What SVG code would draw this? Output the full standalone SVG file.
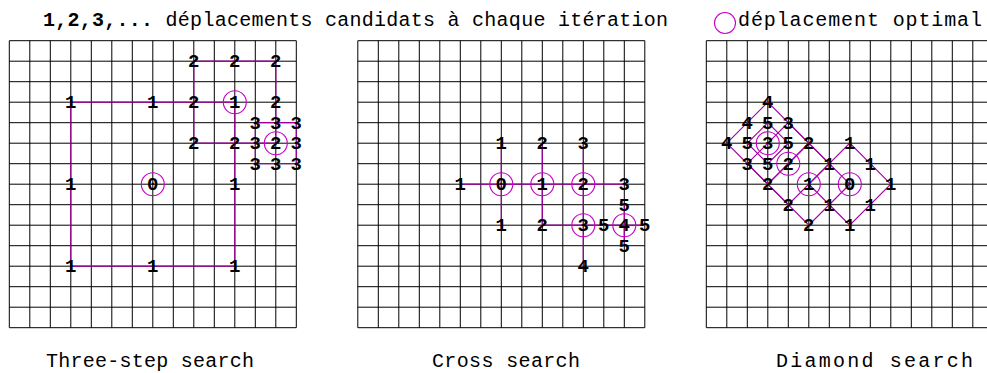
<svg xmlns="http://www.w3.org/2000/svg" width="987" height="373" viewBox="0 0 987 373">
<style>
.grid{fill:none;stroke:#000;stroke-width:1}
.ln{fill:none;stroke:#a000a0;stroke-width:1.2}
.opt{fill:none;stroke:#c800c8;stroke-width:1.1}
.n{font-family:"Liberation Mono","DejaVu Sans Mono",monospace;font-weight:bold;font-size:19px;text-anchor:middle;fill:#000}
.t{font-family:"Liberation Mono","DejaVu Sans Mono",monospace;font-size:20px;fill:#000}
.cap{font-family:"Liberation Mono","DejaVu Sans Mono",monospace;font-size:20px;fill:#000}
</style>
<defs>
<path id="g" class="grid" d="M-143.5 -143.5V143.5M-123 -143.5V143.5M-102.5 -143.5V143.5M-82 -143.5V143.5M-61.5 -143.5V143.5M-41 -143.5V143.5M-20.5 -143.5V143.5M0 -143.5V143.5M20.5 -143.5V143.5M41 -143.5V143.5M61.5 -143.5V143.5M82 -143.5V143.5M102.5 -143.5V143.5M123 -143.5V143.5M143.5 -143.5V143.5M-143.5 -143.5H143.5M-143.5 -123H143.5M-143.5 -102.5H143.5M-143.5 -82H143.5M-143.5 -61.5H143.5M-143.5 -41H143.5M-143.5 -20.5H143.5M-143.5 0H143.5M-143.5 20.5H143.5M-143.5 41H143.5M-143.5 61.5H143.5M-143.5 82H143.5M-143.5 102.5H143.5M-143.5 123H143.5M-143.5 143.5H143.5"/>
</defs>
<g id="legend">
<text class="t" x="43" y="26" textLength="625" lengthAdjust="spacing"><tspan font-weight="bold">1,2,3,...</tspan> déplacements candidats à chaque itération</text>
<circle class="opt" cx="725" cy="23" r="10.5"/>
<text class="t" x="738" y="26" textLength="244" lengthAdjust="spacing">déplacement optimal</text>
</g>
<g id="three-step" transform="translate(152.8,184.2)">
<use href="#g"/>
<g id="three-step-connectors">
<path class="ln" d="M-82 -82H82V82H-82Z"/>
<path class="ln" d="M41 -123H123V-41H41Z"/>
<path class="ln" d="M102.5 -61.5H143.5V-20.5H102.5Z"/>
</g>
<g id="three-step-optimal">
<circle class="opt" cx="0" cy="0" r="11.5"/>
<circle class="opt" cx="82" cy="-82" r="11.5"/>
<circle class="opt" cx="123" cy="-41" r="11.5"/>
</g>
<g id="three-step-labels">
<text class="n" x="0" y="6">0</text>
<text class="n" x="-82" y="-76">1</text><text class="n" x="0" y="-76">1</text><text class="n" x="82" y="-76">1</text>
<text class="n" x="-82" y="6">1</text><text class="n" x="82" y="6">1</text>
<text class="n" x="-82" y="88">1</text><text class="n" x="0" y="88">1</text><text class="n" x="82" y="88">1</text>
<text class="n" x="41" y="-117">2</text><text class="n" x="82" y="-117">2</text><text class="n" x="123" y="-117">2</text>
<text class="n" x="41" y="-76">2</text><text class="n" x="123" y="-76">2</text>
<text class="n" x="41" y="-35">2</text><text class="n" x="82" y="-35">2</text><text class="n" x="123" y="-35">2</text>
<text class="n" x="102.5" y="-55.5">3</text><text class="n" x="123" y="-55.5">3</text><text class="n" x="143.5" y="-55.5">3</text>
<text class="n" x="102.5" y="-35">3</text><text class="n" x="143.5" y="-35">3</text>
<text class="n" x="102.5" y="-14.5">3</text><text class="n" x="123" y="-14.5">3</text><text class="n" x="143.5" y="-14.5">3</text>
</g>
</g>
<g id="cross" transform="translate(501.3,184.2)">
<use href="#g"/>
<g id="cross-connectors">
<path class="ln" d="M-41 0H123M0 -41V41M41 -41V41M82 -41V82M41 41H143.5M123 20.5V61.5"/>
</g>
<g id="cross-optimal">
<circle class="opt" cx="0" cy="0" r="11.5"/>
<circle class="opt" cx="41" cy="0" r="11.5"/>
<circle class="opt" cx="82" cy="0" r="11.5"/>
<circle class="opt" cx="82" cy="41" r="11.5"/>
<circle class="opt" cx="123" cy="41" r="11.5"/>
</g>
<g id="cross-labels">
<text class="n" x="0" y="6">0</text>
<text class="n" x="-41" y="6">1</text><text class="n" x="0" y="-35">1</text><text class="n" x="0" y="47">1</text><text class="n" x="41" y="6">1</text>
<text class="n" x="41" y="-35">2</text><text class="n" x="82" y="6">2</text><text class="n" x="41" y="47">2</text>
<text class="n" x="82" y="-35">3</text><text class="n" x="123" y="6">3</text><text class="n" x="82" y="47">3</text>
<text class="n" x="82" y="88">4</text><text class="n" x="123" y="47">4</text>
<text class="n" x="102.5" y="47">5</text><text class="n" x="143.5" y="47">5</text><text class="n" x="123" y="26.5">5</text><text class="n" x="123" y="67.5">5</text>
</g>
</g>
<g id="diamond" transform="translate(849.8,184.2)">
<use href="#g"/>
<g id="diamond-connectors">
<path class="ln" d="M41 0L0 41L-41 0L0 -41Z"/>
<path class="ln" d="M-82 0L-41 41L0 0L-41 -41Z"/>
<path class="ln" d="M-102.5 -20.5L-61.5 20.5L-20.5 -20.5L-61.5 -61.5Z"/>
<path class="ln" d="M-123 -41L-82 0L-41 -41L-82 -82Z"/>
<path class="ln" d="M-102.5 -41L-82 -20.5L-61.5 -41L-82 -61.5Z"/>
</g>
<g id="diamond-optimal">
<circle class="opt" cx="0" cy="0" r="11.5"/>
<circle class="opt" cx="-41" cy="0" r="11.5"/>
<circle class="opt" cx="-61.5" cy="-20.5" r="11.5"/>
<circle class="opt" cx="-82" cy="-41" r="11.5"/>
</g>
<g id="diamond-labels">
<text class="n" x="0" y="6">0</text>
<text class="n" x="41" y="6">1</text><text class="n" x="0" y="47">1</text><text class="n" x="-41" y="6">1</text><text class="n" x="0" y="-35">1</text>
<text class="n" x="20.5" y="-14.5">1</text><text class="n" x="20.5" y="26.5">1</text><text class="n" x="-20.5" y="26.5">1</text><text class="n" x="-20.5" y="-14.5">1</text>
<text class="n" x="-82" y="6">2</text><text class="n" x="-61.5" y="26.5">2</text><text class="n" x="-41" y="47">2</text><text class="n" x="-61.5" y="-14.5">2</text><text class="n" x="-41" y="-35">2</text>
<text class="n" x="-102.5" y="-14.5">3</text><text class="n" x="-82" y="-35">3</text><text class="n" x="-61.5" y="-55.5">3</text>
<text class="n" x="-82" y="-76">4</text><text class="n" x="-102.5" y="-55.5">4</text><text class="n" x="-123" y="-35">4</text>
<text class="n" x="-82" y="-55.5">5</text><text class="n" x="-102.5" y="-35">5</text><text class="n" x="-61.5" y="-35">5</text><text class="n" x="-82" y="-14.5">5</text>
</g>
</g>
<g id="captions">
<text class="cap" x="46" y="367" textLength="208" lengthAdjust="spacing">Three-step search</text>
<text class="cap" x="432" y="367" textLength="148" lengthAdjust="spacing">Cross search</text>
<text class="cap" x="776" y="367" textLength="197" lengthAdjust="spacing">Diamond search</text>
</g>
</svg>
